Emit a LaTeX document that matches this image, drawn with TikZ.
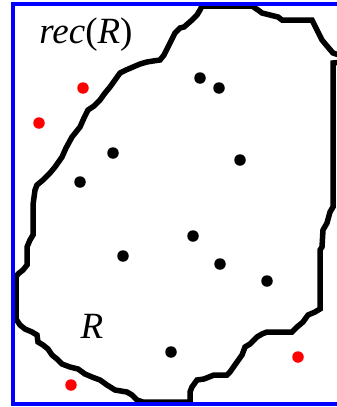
\documentclass[tikz,border=0pt]{standalone}
\usepackage{fontspec}
\setmainfont{Liberation Serif}
\begin{document}
\begin{tikzpicture}[x=1pt,y=-1pt,
  blackdot/.style={circle,fill=black,inner sep=0pt,minimum size=11.5pt},
  reddot/.style={circle,fill=red,inner sep=0pt,minimum size=11.5pt},
  region/.style={draw=black,line width=5.5pt,line join=miter},
  rect/.style={draw=blue,line width=4pt},
  lab/.style={font=\fontsize{37}{44}\selectfont,inner sep=0pt}]
\useasboundingbox (0,0) rectangle (337,407);
\draw[region] (33,235) -- (33,205) -- (35,190) -- (37,185) -- (43,180) -- (50,173) -- (55,167) -- (62,157) -- (66,148) -- (72,137) -- (76,132) -- (80,127) -- (84,118) -- (88,110) -- (94,106) -- (100,100) -- (105,93) -- (110,87) -- (115,80) -- (120,73) -- (126,70) -- (133,67) -- (140,64) -- (147,62) -- (153,61) -- (160,60) -- (164,55) -- (167,49) -- (175,33) -- (180,28) -- (184,27) -- (192,20) -- (197,15) -- (200,10) -- (202,6) -- (252,6) -- (258,10) -- (262,13) -- (270,15) -- (278,17) -- (282,20) -- (312,20) -- (317,30) -- (322,40) -- (327,46) -- (333,53) -- (342,56) -- (342,62) -- (333,63) -- (333,207) -- (330,212) -- (327,223) -- (323,230) -- (322,247) -- (320,250) -- (320,309) -- (315,312) -- (308,315) -- (303,322) -- (297,327) -- (292,332) -- (267,332) -- (262,334) -- (257,337) -- (250,344) -- (245,347) -- (242,355) -- (237,362) -- (230,372) -- (227,375) -- (214,375) -- (204,379) -- (197,380) -- (192,387) -- (190,392) -- (190,402) -- (143,402) -- (137,400) -- (132,395) -- (127,392) -- (115,390) -- (107,385) -- (100,380) -- (92,377) -- (85,374) -- (78,369) -- (70,367) -- (62,364) -- (57,359) -- (52,355) -- (48,349) -- (43,345) -- (38,342) -- (37,335) -- (32,332) -- (25,329) -- (20,325) -- (16,319) -- (16,277) -- (18,274) -- (23,270) -- (27,265) -- (27,247) -- (30,240) -- cycle;
\draw[rect] (339,4) -- (13,4) -- (13,404) -- (339,404);
\node[lab] (rec) at (86,35) {\textit{rec}(\textit{R})};
\node[lab] (R) at (92,326) {\textit{R}};
\node[blackdot] (b1) at (200,78) {};
\node[blackdot] (b2) at (219,88) {};
\node[blackdot] (b3) at (113,153) {};
\node[blackdot] (b4) at (240,160) {};
\node[blackdot] (b5) at (80,182) {};
\node[blackdot] (b6) at (193,236) {};
\node[blackdot] (b7) at (123,256) {};
\node[blackdot] (b8) at (220,264) {};
\node[blackdot] (b9) at (267,281) {};
\node[blackdot] (b10) at (171,352) {};
\node[reddot] (r1) at (83,88) {};
\node[reddot] (r2) at (39,123) {};
\node[reddot] (r3) at (71,385) {};
\node[reddot] (r4) at (298,357) {};
\end{tikzpicture}
\end{document}
